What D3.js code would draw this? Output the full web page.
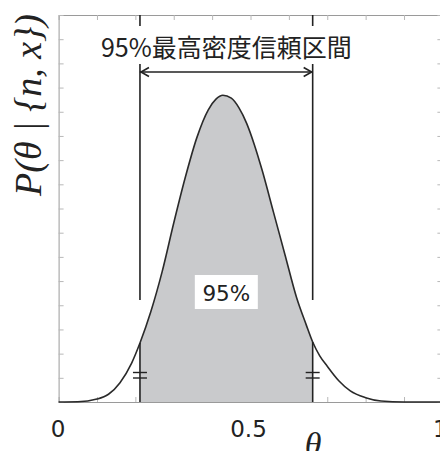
<!DOCTYPE html>
<html>
<head>
<meta charset="utf-8">
<script src="https://cdn.jsdelivr.net/npm/d3@7"></script>
<style>
	body { margin: 0; background: #fff; }
	.frame .domain { stroke: #9a9a9a; }
	.frame .tick line { stroke: #b8b8b8; }
</style>
</head>
<body>
<div id="visualization"></div>
<script>
// ==================================================
// DATA
// ==================================================

// Posterior curve
var thetaValues   = [0, 0.05, 0.10, 0.13, 0.16, 0.19, 0.212, 0.24, 0.27, 0.30,
					 0.33, 0.36, 0.39, 0.41, 0.428, 0.45, 0.47, 0.49, 0.51, 0.53,
					 0.56, 0.59, 0.62, 0.645, 0.662, 0.68, 0.70, 0.73, 0.76, 0.80,
					 0.84, 0.90, 1];
var densityValues = [0, 0.002, 0.03, 0.08, 0.20, 0.40, 0.61, 0.93, 1.35, 1.85,
					 2.32, 2.73, 3.02, 3.13, 3.17, 3.14, 3.04, 2.88, 2.66, 2.40,
					 1.96, 1.52, 1.08, 0.80, 0.62, 0.48, 0.37, 0.22, 0.115, 0.045,
					 0.01, 0, 0];

// Highest density interval
var hpdBounds = [0.212, 0.662];
var hpdLabel  = "95%";
var hpdTitle  = "95%最高密度信頼区間";

// Tick labels
var xTickValues = [0, 0.5, 1];
var xTickLabels = ["0", "0.5", "1"];


// ==================================================
// CANVAS
// ==================================================

var width  = 440;
var height = 451;

var canvas = d3.select("#visualization")
	.append("svg")
		.attr("width",  width)
		.attr("height", height)
		.style("background", "#fff");

var x = d3.scaleLinear()
	.domain([0, 1])
	.range([58.6, 442.4]);

var y = d3.scaleLinear()
	.domain([0, 4])
	.range([402, 15]);

var xMinor = d3.range(0, 1.0001, 0.1);
var yMinor = d3.range(0, 4.0001, 0.25);


// Frame with inward ticks on every side
var frame = canvas.append("g").attr("class", "frame");

frame.append("g")
	.attr("transform", "translate(0," + y(0) + ")")
	.call(d3.axisBottom(x).tickValues(xMinor).tickSize(-5).tickSizeOuter(0).tickFormat(""));

frame.append("g")
	.attr("transform", "translate(0," + y(4) + ")")
	.call(d3.axisTop(x).tickValues(xMinor).tickSize(-5).tickSizeOuter(0).tickFormat(""));

frame.append("g")
	.attr("transform", "translate(" + x(0) + ",0)")
	.call(d3.axisLeft(y).tickValues(yMinor).tickSize(-5).tickSizeOuter(0).tickFormat(""));

frame.append("g")
	.attr("transform", "translate(" + x(1) + ",0)")
	.call(d3.axisRight(y).tickValues(yMinor).tickSize(-5).tickSizeOuter(0).tickFormat(""));


// ==================================================
// CURVE
// ==================================================

var points = thetaValues.map(function(t, i) {
	return { theta: t, dens: densityValues[i] };
});

canvas.append("clipPath")
	.attr("id", "hpd-clip")
	.append("rect")
		.attr("x", x(hpdBounds[0]))
		.attr("y", y(4))
		.attr("width",  x(hpdBounds[1]) - x(hpdBounds[0]))
		.attr("height", y(0) - y(4));

var area = d3.area()
	.x(function(d) { return x(d.theta); })
	.y0(y(0))
	.y1(function(d) { return y(d.dens); })
	.curve(d3.curveMonotoneX);

var line = d3.line()
	.x(function(d) { return x(d.theta); })
	.y(function(d) { return y(d.dens); })
	.curve(d3.curveMonotoneX);

canvas.append("path")
	.datum(points)
	.attr("clip-path", "url(#hpd-clip)")
	.attr("fill", "#c9cacc")
	.attr("d", area);

canvas.append("path")
	.datum(points)
	.attr("fill", "none")
	.attr("stroke", "#2a2a2a")
	.attr("stroke-width", 1.6)
	.attr("d", line);


// ==================================================
// ANNOTATIONS
// ==================================================

var ink = "#222";
var mid = (x(hpdBounds[0]) + x(hpdBounds[1])) / 2;

hpdBounds.forEach(function(b) {
	var bx = x(b);
	var by = y(densityValues[thetaValues.indexOf(b)]);

	// upper guide
	canvas.append("line")
		.attr("x1", bx).attr("x2", bx)
		.attr("y1", y(4)).attr("y2", 300)
		.attr("stroke", ink).attr("stroke-width", 1.6);

	// lower edge of the shaded region
	canvas.append("line")
		.attr("x1", bx).attr("x2", bx)
		.attr("y1", by).attr("y2", y(0))
		.attr("stroke", ink).attr("stroke-width", 1.6);

	// equal marks
	[372.5, 378].forEach(function(my) {
		canvas.append("line")
			.attr("x1", bx - 7).attr("x2", bx + 7)
			.attr("y1", my).attr("y2", my)
			.attr("stroke", ink).attr("stroke-width", 1.4);
	});
});

// Title over a white patch
canvas.append("rect")
	.attr("x", 104).attr("y", 26)
	.attr("width", 248).attr("height", 38)
	.attr("fill", "#fff");

canvas.append("text")
	.attr("x", mid)
	.attr("y", 57)
	.attr("text-anchor", "middle")
	.attr("font-family", "'Noto Sans CJK JP', sans-serif")
	.attr("font-size", "25px")
	.attr("fill", ink)
	.text(hpdTitle);

// Double headed arrow
var ay = 72;
var x0 = x(hpdBounds[0]);
var x1 = x(hpdBounds[1]);

canvas.append("line")
	.attr("x1", x0).attr("x2", x1)
	.attr("y1", ay).attr("y2", ay)
	.attr("stroke", ink).attr("stroke-width", 1.6);

canvas.append("path")
	.attr("d", "M" + (x0 + 9) + "," + (ay - 4.5) + "L" + (x0 + 1) + "," + ay + "L" + (x0 + 9) + "," + (ay + 4.5) +
	           "M" + (x1 - 9) + "," + (ay - 4.5) + "L" + (x1 - 1) + "," + ay + "L" + (x1 - 9) + "," + (ay + 4.5))
	.attr("fill", "none")
	.attr("stroke", ink)
	.attr("stroke-width", 1.6);

// 95% label in a white box
canvas.append("rect")
	.attr("x", mid - 31.5).attr("y", 275)
	.attr("width", 63).attr("height", 34)
	.attr("fill", "#fff");

canvas.append("text")
	.attr("x", mid)
	.attr("y", 300.5)
	.attr("text-anchor", "middle")
	.attr("font-family", "'DejaVu Sans', sans-serif")
	.attr("font-size", "21.5px")
	.attr("fill", ink)
	.text(hpdLabel);


// ==================================================
// AXIS LABELS
// ==================================================

canvas.selectAll(".xlabel")
	.data(xTickValues)
	.enter()
	.append("text")
		.attr("class", "xlabel")
		.attr("x", function(d) { return x(d) - (d > 0 ? 2 : 0.5); })
		.attr("y", 436.7)
		.attr("text-anchor", "middle")
		.attr("font-family", "'DejaVu Sans', sans-serif")
		.attr("font-size", "23px")
		.attr("fill", ink)
		.text(function(d, i) { return xTickLabels[i]; });

canvas.append("text")
	.attr("x", 313)
	.attr("y", 456)
	.attr("text-anchor", "middle")
	.attr("font-family", "'Liberation Serif', serif")
	.attr("font-style", "italic")
	.attr("font-size", "34px")
	.attr("fill", ink)
	.text("θ");

canvas.append("text")
	.attr("transform", "translate(41,105) rotate(-90)")
	.attr("text-anchor", "middle")
	.attr("font-family", "'Liberation Serif', serif")
	.attr("font-style", "italic")
	.attr("font-size", "38px")
	.attr("fill", ink)
	.text("P(θ | {n, x})");
</script>
</body>
</html>
